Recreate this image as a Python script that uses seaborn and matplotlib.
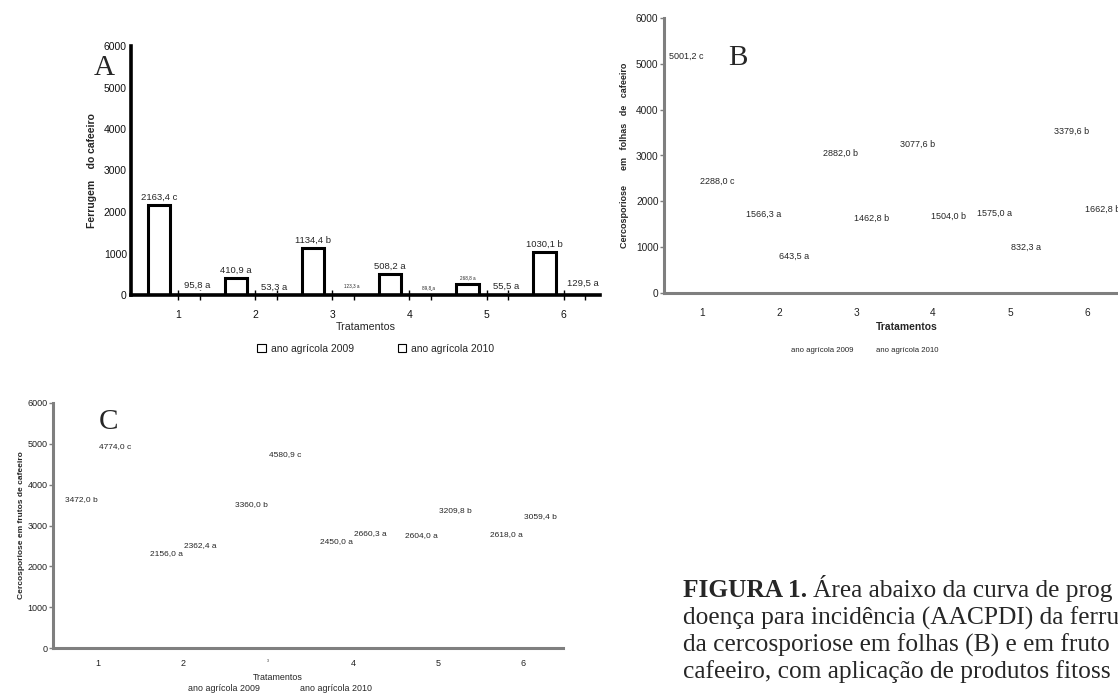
import matplotlib
matplotlib.use("Agg")
import matplotlib.pyplot as plt
import pandas as pd
import seaborn as sns
from matplotlib.patches import Patch
from matplotlib.ticker import FixedLocator

# dados (AACPD por tratamento e ano agricola)
tratamentos = ["1", "2", "3", "4", "5", "6"]
anos = ["2009", "2010"]
legenda_anos = ["ano agrícola 2009", "ano agrícola 2010"]

ferrugem_2009 = [2163.4, 410.9, 1134.4, 508.2, 268.8, 1030.1]
ferrugem_2010 = [95.8, 53.3, 123.3, 89.8, 55.5, 129.5]
ferrugem_letras_2009 = ["c", "a", "b", "a", "a", "b"]
ferrugem_letras_2010 = ["a", "a", "a", "a", "a", "a"]

folhas_2009 = [5001.2, 1566.3, 2882.0, 3077.6, 1575.0, 3379.6]
folhas_2010 = [2288.0, 643.5, 1462.8, 1504.0, 832.3, 1662.8]
folhas_letras_2009 = ["c", "a", "b", "b", "a", "b"]
folhas_letras_2010 = ["c", "a", "b", "b", "a", "b"]

frutos_2009 = [3472.0, 2156.0, 3360.0, 2450.0, 2604.0, 2618.0]
frutos_2010 = [4774.0, 2362.4, 4580.9, 2660.3, 3209.8, 3059.4]
frutos_letras_2009 = ["b", "a", "b", "a", "a", "a"]
frutos_letras_2010 = ["c", "a", "c", "a", "b", "b"]

# legenda da figura, como aparece (cortada na margem direita)
titulo_figura = "FIGURA 1."
linhas_figura = [
    "Área abaixo da curva de prog",
    "doença para incidência (AACPDI) da ferru",
    "da cercosporiose em folhas (B) e em fruto",
    "cafeeiro, com aplicação de produtos fitoss",
]

W, H = 1118, 693
CINZA = "#7f7f7f"


def tabela(v09, v10):
    return pd.DataFrame({
        "Tratamentos": tratamentos * 2,
        "valor": v09 + v10,
        "ano": [anos[0]] * len(v09) + [anos[1]] * len(v10),
    })


def rotulos(valores, letras):
    return [f"{v:.1f}".replace(".", ",") + " " + l for v, l in zip(valores, letras)]


def caixa(x0, y0, x1, y1):
    return [x0 / W, 1 - y1 / H, (x1 - x0) / W, (y1 - y0) / H]


def barras(ax, df, **kw):
    sns.barplot(df, x="Tratamentos", y="valor", hue="ano", order=tratamentos,
                hue_order=anos, palette=["white", "white"], saturation=1,
                errorbar=None, legend=False, ax=ax, **kw)
    ax.set_ylim(0, 6000)
    ax.set_yticks(range(0, 6001, 1000))
    sns.despine(ax=ax)


sns.set_theme(style="white")
plt.rcParams["font.family"] = ["Liberation Sans", "DejaVu Sans"]

fig = plt.figure(figsize=(W / 100, H / 100), dpi=100)

# ---------------- A: ferrugem ----------------
ax_a = fig.add_axes(caixa(131, 46, 600, 295))
barras(ax_a, tabela(ferrugem_2009, ferrugem_2010), width=1.0, gap=0.42,
       edgecolor="black", linewidth=2.2)
for p in ax_a.containers[1]:
    p.set_linewidth(0)
ax_a.set_xlim(-0.61, 5.47)
for s in ["left", "bottom"]:
    ax_a.spines[s].set_color("black")
    ax_a.spines[s].set_linewidth(2.6)
t09 = ax_a.bar_label(ax_a.containers[0], labels=rotulos(ferrugem_2009, ferrugem_letras_2009),
                     padding=2.5, fontsize=6.8)
t10 = ax_a.bar_label(ax_a.containers[1], labels=rotulos(ferrugem_2010, ferrugem_letras_2010),
                     padding=1, fontsize=6.8)
for t in [t09[4], t10[2], t10[3]]:
    t.set_fontsize(3.3)
ax_a.tick_params(axis="y", length=0, pad=3, labelsize=7.5, labelcolor="#111111")
ax_a.tick_params(axis="x", which="both", direction="inout", length=7, width=1,
                 color="black", pad=7, labelsize=7.5, labelcolor="#111111", bottom=True)
ax_a.xaxis.set_minor_locator(FixedLocator([i + 0.28 for i in range(len(tratamentos))]))
ax_a.set_ylabel("Ferrugem    do cafeeiro", fontsize=7.5, fontweight="bold", labelpad=5)
ax_a.set_xlabel("Tratamentos", fontsize=7.7, labelpad=2)
quadrados = [Patch(facecolor="white", edgecolor="black", linewidth=0.8) for _ in anos]
ax_a.legend(quadrados, legenda_anos, loc="center", bbox_to_anchor=(0.522, -0.217), ncol=2,
            frameon=False, fontsize=7.5, handlelength=0.8, handleheight=0.8,
            handletextpad=0.5, columnspacing=4.2)

# ---------------- B: cercosporiose em folhas ----------------
ax_b = fig.add_axes(caixa(664, 18, 1149, 293))
barras(ax_b, tabela(folhas_2009, folhas_2010), linewidth=0)
ax_b.set_xlim(-0.49, 5.8)
for s in ["left", "bottom"]:
    ax_b.spines[s].set_color(CINZA)
    ax_b.spines[s].set_linewidth(2.2)
ax_b.bar_label(ax_b.containers[0], labels=rotulos(folhas_2009, folhas_letras_2009), padding=2, fontsize=6.5)
ax_b.bar_label(ax_b.containers[1], labels=rotulos(folhas_2010, folhas_letras_2010), padding=2, fontsize=6.5)
ax_b.tick_params(axis="y", length=3, width=1, color=CINZA, pad=1, labelsize=7.3, labelcolor="#222222", left=True)
ax_b.tick_params(axis="x", length=0, pad=11, labelsize=7.3, labelcolor="#222222")
ax_b.set_ylabel("Cercosporiose      em   folhas   de   cafeeiro", fontsize=6.5,
                fontweight="bold", labelpad=5)
ax_b.set_xlabel("Tratamentos", fontsize=7.5, fontweight="bold", labelpad=3)
vazios = [Patch(facecolor="none", edgecolor="none") for _ in anos]
ax_b.legend(vazios, legenda_anos, loc="center", bbox_to_anchor=(0.414, -0.207), ncol=2,
            frameon=False, fontsize=5.6, handlelength=0, handletextpad=0, columnspacing=3.0)

# ---------------- C: cercosporiose em frutos ----------------
ax_c = fig.add_axes(caixa(53, 403, 563, 648))
barras(ax_c, tabela(frutos_2009, frutos_2010), linewidth=0)
ax_c.set_xlim(-0.53, 5.47)
for s in ["left", "bottom"]:
    ax_c.spines[s].set_color(CINZA)
    ax_c.spines[s].set_linewidth(2.2)
ax_c.bar_label(ax_c.containers[0], labels=rotulos(frutos_2009, frutos_letras_2009), padding=2, fontsize=6)
ax_c.bar_label(ax_c.containers[1], labels=rotulos(frutos_2010, frutos_letras_2010), padding=2, fontsize=6)
ax_c.tick_params(axis="y", length=3, width=1, color=CINZA, pad=1, labelsize=6.5, labelcolor="#222222", left=True)
ax_c.tick_params(axis="x", length=0, pad=8, labelsize=6.5, labelcolor="#222222")
ax_c.get_xticklabels()[2].set_fontsize(2.5)
ax_c.set_ylabel("Cercosporiose em frutos de cafeeiro", fontsize=6, fontweight="bold", labelpad=1.5)
ax_c.set_xlabel("Tratamentos", fontsize=6.4)
ax_c.xaxis.set_label_coords(0.44, -0.102)
ax_c.legend(vazios, legenda_anos, loc="center", bbox_to_anchor=(0.445, -0.167), ncol=2,
            frameon=False, fontsize=6.4, handlelength=0, handletextpad=0, columnspacing=4.5)

# letras dos paineis
serif = ["Liberation Serif", "DejaVu Serif"]
for letra, x, y in [("A", 104, 68), ("B", 738, 58), ("C", 108, 422)]:
    fig.text(x / W, 1 - y / H, letra, family=serif, fontsize=21, ha="center", va="center")

# legenda da figura
x0 = 683 / W
bases = [597, 625, 652, 678]
t = fig.text(x0, 1 - bases[0] / H, titulo_figura, family=serif, fontsize=18.3,
             fontweight="bold", va="baseline")
fig.canvas.draw()
fim = t.get_window_extent(fig.canvas.get_renderer()).x1 / W
for i, (linha, y) in enumerate(zip(linhas_figura, bases)):
    x = fim + 6 / W if i == 0 else x0
    fig.text(x, 1 - y / H, linha, family=serif, fontsize=18.3, va="baseline")

fig.savefig("out.png", dpi=100)
